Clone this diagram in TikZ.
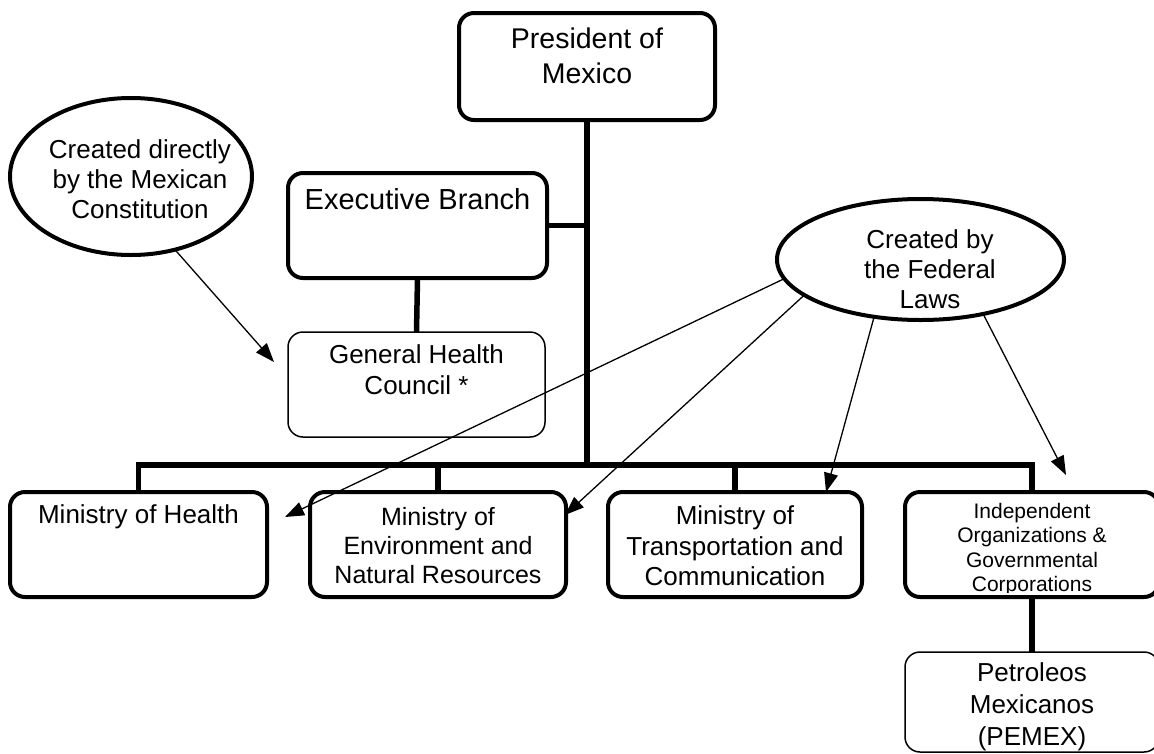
\documentclass[tikz,border=0pt]{standalone}
\usepackage{fontspec}
\setmainfont{Liberation Sans}
\usetikzlibrary{shapes.geometric,arrows.meta}
\newcommand{\mybox}[4]{\parbox[c][#2][t]{#1}{\centering\vspace*{#3}#4\par}}
\tikzset{
  thickbox/.style={draw, line width=4pt, rounded corners=15pt, inner sep=0pt, outer sep=0pt},
  thinbox/.style={draw, line width=1.5pt, rounded corners=15pt, inner sep=0pt, outer sep=0pt},
  oval/.style={draw, ellipse, line width=4pt, inner sep=0pt, outer sep=0pt},
  conn/.style={line width=5.5pt, line join=miter},
  arr/.style={line width=1.3pt, -{Triangle[length=19pt,width=14pt]}},
  txt/.style={inner sep=0pt, align=center}
}
\begin{document}
\begin{tikzpicture}[x=1pt,y=-1pt]
\useasboundingbox (0,0) rectangle (1154,753);

% boxes
\node[thickbox, font=\fontsize{28.5}{35}\selectfont] (pres) at (587,66.5) {\mybox{256pt}{107pt}{15pt}{President of\\Mexico}};
\node[thickbox, font=\fontsize{29}{34}\selectfont] (exec) at (417.5,225.5) {\mybox{259pt}{105pt}{15pt}{Executive Branch}};
\node[thinbox, font=\fontsize{26}{31}\selectfont] (ghc) at (416.5,384.5) {\mybox{257pt}{105pt}{13pt}{General Health\\Council *}};
\node[thickbox, font=\fontsize{26}{30}\selectfont] (moh) at (138.5,544.5) {\mybox{257pt}{105pt}{13pt}{Ministry of Health}};
\node[thickbox, font=\fontsize{25}{29}\selectfont] (moe) at (438,544.5) {\mybox{256pt}{105pt}{15pt}{Ministry of\\Environment and\\Natural Resources}};
\node[thickbox, font=\fontsize{26}{30.5}\selectfont] (mot) at (735,544.5) {\mybox{254pt}{105pt}{14pt}{Ministry of\\Transportation and\\Communication}};
\node[thickbox, minimum width=254pt, minimum height=105pt] (ind) at (1032,544.5) {};
\begin{scope}
  \clip (905,495) rectangle (1159,592);
  \node[txt, anchor=north, font=\fontsize{21}{24.5}\selectfont] (indtxt) at ([yshift=-11pt]ind.north) {Independent\\Organizations \&\\Governmental\\Corporations};
\end{scope}
\node[thinbox, font=\fontsize{26}{32}\selectfont] (pem) at (1032,702) {\mybox{254pt}{100pt}{11pt}{Petroleos\\Mexicanos\\(PEMEX)}};

% ellipses
\node[oval, minimum width=242pt, minimum height=157pt] (con) at (131,176.5) {};
\node[txt, font=\fontsize{26}{30}\selectfont] (contxt) at (140,179.5) {Created directly\\by the Mexican\\Constitution};
\node[oval, minimum width=287pt, minimum height=121pt] (fed) at (920.5,259.5) {};
\node[txt, font=\fontsize{26}{30}\selectfont] (fedtxt) at (930,269.5) {Created by\\the Federal\\Laws};

% tree connectors
\coordinate (bar) at (587,465);
\draw[conn] (pres.south) -- (pres.south |- bar);
\draw[conn] (exec.east) -- (exec.east -| pres.south);
\draw[conn] (exec.south) -- (ghc.north);
\draw[conn] (moh.north) -- (moh.north |- bar) -- (ind.north |- bar) -- (ind.north);
\draw[conn] (moe.north) -- (moe.north |- bar);
\draw[conn] (mot.north) -- (mot.north |- bar);
\draw[conn] (ind.south) -- (pem.north);

% arrows
\coordinate (t0) at (274,362);
\coordinate (t1) at (285,517);
\coordinate (t2) at (565,515);
\coordinate (t3) at (826,492);
\coordinate (t4) at (1066,475);
\draw[arr] (con.301.8) -- (t0);
\draw[arr] (fed.188.4) -- (t1);
\draw[arr] (fed.197.9) -- (t2);
\draw[arr] (fed.231.9) -- (t3);
\draw[arr] (fed.319.8) -- (t4);
\end{tikzpicture}
\end{document}
